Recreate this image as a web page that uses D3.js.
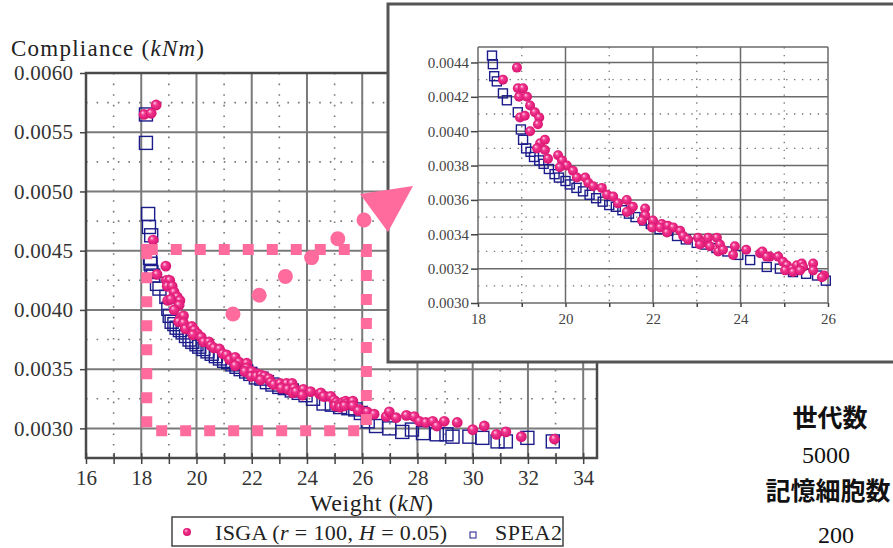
<!DOCTYPE html>
<html>
<head>
<meta charset="utf-8">
<script src="https://cdnjs.cloudflare.com/ajax/libs/d3/7.8.5/d3.min.js"></script>
<style>
  body { margin: 0; background: #fff; }
  svg { display: block; font-family: "Liberation Serif", "Times New Roman", "DejaVu Serif", serif; }
  .major { stroke: #7a7a7a; stroke-width: 2; }
  .minor { stroke: #777; stroke-width: 1.6; stroke-dasharray: 1.6,9; }
  .imajor { stroke: #6a6a6a; stroke-width: 1.5; }
  .iminor { stroke: #777; stroke-width: 1.3; stroke-dasharray: 1.4,6.5; }
  .spea { fill: none; stroke: #1c1c8a; stroke-width: 1.4; }
  .cjk { font-family: "Noto Sans CJK JP", sans-serif; font-weight: bold; }
</style>
</head>
<body>
<script>
var w = 893;
var h = 548;
var serif = "Liberation Serif, Times New Roman, serif";

// ISGA (r = 100, H = 0.05) : [weight kN, compliance kNm]
var isga = [
  [18.10,0.00565],[18.36,0.00566],[18.54,0.00573],[18.43,0.00459],
  [18.89,0.00437],[18.57,0.00430],[18.91,0.00425],[19.03,0.00425],[18.94,0.00420],
  [19.12,0.00420],[19.19,0.00415],[19.30,0.00411],[19.40,0.00408],[18.96,0.00408],
  [19.07,0.00409],[19.37,0.00404],[19.19,0.00400],[19.42,0.00393],[19.53,0.00395],
  [19.35,0.00390],[19.53,0.00389],[19.60,0.00384],[19.83,0.00386],[19.92,0.00383],
  [20.03,0.00380],[19.87,0.00379],[20.17,0.00377],[20.26,0.00373],[20.45,0.00373],
  [20.52,0.00370],[20.63,0.00368],[20.83,0.00367],[20.95,0.00363],[21.09,0.00362],
  [21.20,0.00358],[21.40,0.00360],[21.47,0.00354],[21.54,0.00356],[21.40,0.00353],
  [21.82,0.00355],[21.82,0.00351],[21.75,0.00348],[22.00,0.00348],[21.98,0.00344],
  [22.20,0.00346],[22.16,0.00344],[22.34,0.00345],[22.46,0.00344],[22.32,0.00341],
  [22.62,0.00342],[22.69,0.00339],[22.80,0.00337],[23.03,0.00338],[23.12,0.00335],
  [23.26,0.00338],[23.07,0.00334],[23.46,0.00338],[23.30,0.00333],[23.53,0.00334],
  [23.49,0.00330],[23.60,0.00331],[23.87,0.00333],[23.83,0.00328],[24.13,0.00331],
  [24.45,0.00329],[24.50,0.00330],[24.67,0.00327],[24.60,0.00327],[24.86,0.00327],
  [24.97,0.00324],[25.06,0.00322],[25.02,0.00319],[25.18,0.00320],[25.29,0.00322],
  [25.20,0.00318],[25.40,0.00323],[25.43,0.00321],[25.36,0.00319],[25.66,0.00323],
  [25.66,0.00319],[25.91,0.00316],[25.86,0.00315],
  [26.18,0.00314],[26.43,0.00312],[26.87,0.00310],[26.98,0.00314],[27.23,0.00309],
  [27.60,0.00311],[27.88,0.00310],[28.07,0.00306],[28.30,0.00305],[28.55,0.00306],
  [28.70,0.00302],[28.97,0.00306],[29.44,0.00305],[30.00,0.00299],[30.42,0.00302],
  [30.86,0.00295],[31.20,0.00297],[31.76,0.00293],[32.96,0.00291]
];

// SPEA2 : [weight kN, compliance kNm]
var spea2 = [
  [18.17,0.00565],[18.17,0.00541],[18.25,0.00481],[18.28,0.00470],[18.36,0.00463],
  [18.32,0.00444],[18.34,0.00439],[18.37,0.00432],[18.43,0.00429],[18.57,0.00422],
  [18.66,0.00418],[18.91,0.00411],[18.98,0.00401],[19.03,0.00395],[19.10,0.00390],
  [19.20,0.00388],[19.28,0.00385],[19.40,0.00383],[19.50,0.00381],[19.62,0.00378],
  [19.75,0.00375],[19.85,0.00373],[20.00,0.00371],[20.10,0.00369],[20.25,0.00367],
  [20.40,0.00365],[20.55,0.00363],[20.70,0.00361],[20.85,0.00359],[21.00,0.00357],
  [21.15,0.00356],[21.30,0.00354],[21.45,0.00352],[21.60,0.00350],[21.80,0.00348],
  [21.95,0.00346],[22.15,0.00343],[22.35,0.00342],[22.55,0.00339],[22.75,0.00337],
  [23.00,0.00335],[23.20,0.00334],[23.45,0.00332],[23.70,0.00330],[23.95,0.00328],
  [24.22,0.00325],[24.60,0.00321],[24.90,0.00320],[25.20,0.00318],[25.50,0.00317],
  [25.75,0.00316],[25.95,0.00313],[26.20,0.00306],[26.50,0.00302],[26.98,0.00300],
  [27.45,0.00297],[27.80,0.00299],[28.20,0.00296],[28.70,0.00295],[29.05,0.00295],
  [29.27,0.00293],[29.88,0.00293],[30.35,0.00292],[30.90,0.00289],[31.20,0.00289],
  [31.98,0.00292],[32.90,0.00289]
];

var mainXTicks = [16, 18, 20, 22, 24, 26, 28, 30, 32, 34];
var mainYTicks = [0.0030, 0.0035, 0.0040, 0.0045, 0.0050, 0.0055, 0.0060];
var insetXTicks = [18, 20, 22, 24, 26];
var insetYTicks = [0.0030, 0.0032, 0.0034, 0.0036, 0.0038, 0.0040, 0.0042, 0.0044];
var sideLabels = ["世代数", "5000", "記憶細胞数", "200"];

var svg = d3.select("body")
    .append("svg")
    .attr("width", w)
    .attr("height", h);

var defs = svg.append("defs");
var grad = defs.append("radialGradient")
    .attr("id", "ball")
    .attr("cx", "50%").attr("cy", "50%").attr("r", "55%")
    .attr("fx", "35%").attr("fy", "30%");
grad.append("stop").attr("offset", "0%").attr("stop-color", "#ffd6ea");
grad.append("stop").attr("offset", "35%").attr("stop-color", "#f2368e");
grad.append("stop").attr("offset", "100%").attr("stop-color", "#d40f6c");

// ---------- main chart ----------
var xScale = d3.scaleLinear().domain([16, 34.5]).range([86, 597]);
var yScale = d3.scaleLinear().domain([0.00275, 0.0060]).range([458, 73]);

var main = svg.append("g");

var minorX = d3.range(17, 35, 2);
var minorY = d3.range(0.00275, 0.0060, 0.0005);

main.selectAll(".mvx").data(minorX).enter().append("line")
    .attr("class", "minor")
    .attr("x1", function(d) { return xScale(d); }).attr("x2", function(d) { return xScale(d); })
    .attr("y1", yScale.range()[1]).attr("y2", yScale.range()[0]);
main.selectAll(".mhy").data(minorY).enter().append("line")
    .attr("class", "minor")
    .attr("y1", function(d) { return yScale(d); }).attr("y2", function(d) { return yScale(d); })
    .attr("x1", xScale.range()[0]).attr("x2", xScale.range()[1]);

main.selectAll(".vx").data(mainXTicks.slice(1)).enter().append("line")
    .attr("class", "major")
    .attr("x1", function(d) { return xScale(d); }).attr("x2", function(d) { return xScale(d); })
    .attr("y1", yScale.range()[1]).attr("y2", yScale.range()[0]);
main.selectAll(".hy").data(mainYTicks.slice(0, -1)).enter().append("line")
    .attr("class", "major")
    .attr("y1", function(d) { return yScale(d); }).attr("y2", function(d) { return yScale(d); })
    .attr("x1", xScale.range()[0]).attr("x2", xScale.range()[1]);

main.append("rect")
    .attr("x", xScale.range()[0]).attr("y", yScale.range()[1])
    .attr("width", xScale.range()[1] - xScale.range()[0])
    .attr("height", yScale.range()[0] - yScale.range()[1])
    .attr("fill", "none").attr("stroke", "#4a4a4a").attr("stroke-width", 2.5);

var xAxis = d3.axisBottom(xScale).tickValues(d3.range(16, 35, 1))
    .tickSize(6).tickFormat(function(d) { return d % 2 === 0 ? d : ""; });
var gx = main.append("g")
    .attr("transform", "translate(0," + yScale.range()[0] + ")")
    .call(xAxis);
gx.select(".domain").remove();
gx.selectAll(".tick line").attr("stroke", "#444").attr("stroke-width", 1.5).attr("y1", -5);
gx.selectAll(".tick text").attr("font-size", 21).attr("fill", "#333")
    .attr("font-family", serif).attr("dy", "0.85em");

var yAxis = d3.axisLeft(yScale).tickValues(mainYTicks).tickSize(6)
    .tickFormat(d3.format(".4f"));
var gy = main.append("g")
    .attr("transform", "translate(" + xScale.range()[0] + ",0)")
    .call(yAxis);
gy.select(".domain").remove();
gy.selectAll(".tick line").attr("stroke", "#444").attr("stroke-width", 1.5);
gy.selectAll(".tick text").attr("font-size", 21).attr("fill", "#333")
    .attr("font-family", serif).attr("x", -13).attr("textLength", 59);

// data
main.selectAll(".sq").data(spea2).enter().append("rect")
    .attr("class", "spea")
    .attr("x", function(d) { return xScale(d[0]) - 6.5; })
    .attr("y", function(d) { return yScale(d[1]) - 6.5; })
    .attr("width", 13).attr("height", 13);
main.selectAll(".ball").data(isga).enter().append("circle")
    .attr("cx", function(d) { return xScale(d[0]); })
    .attr("cy", function(d) { return yScale(d[1]); })
    .attr("r", 5.4).attr("fill", "url(#ball)");

// titles
var ytitle = svg.append("text").attr("x", 11).attr("y", 56).attr("font-size", 23)
    .attr("fill", "#222").attr("textLength", 193);
ytitle.append("tspan").text("Compliance (");
ytitle.append("tspan").attr("font-style", "italic").text("kNm");
ytitle.append("tspan").text(")");

var xtitle = svg.append("text").attr("x", 310).attr("y", 511).attr("font-size", 24)
    .attr("fill", "#222").attr("textLength", 123);
xtitle.append("tspan").text("Weight (");
xtitle.append("tspan").attr("font-style", "italic").text("kN");
xtitle.append("tspan").text(")");

// legend
var leg = svg.append("g");
leg.append("rect").attr("x", 172).attr("y", 517).attr("width", 391).attr("height", 29)
    .attr("fill", "#fff").attr("stroke", "#444").attr("stroke-width", 1.5);
leg.append("circle").attr("cx", 187).attr("cy", 532).attr("r", 4).attr("fill", "url(#ball)");
var lt = leg.append("text").attr("x", 215).attr("y", 540).attr("font-size", 22)
    .attr("fill", "#222").attr("textLength", 232);
lt.append("tspan").text("ISGA (");
lt.append("tspan").attr("font-style", "italic").text("r");
lt.append("tspan").text(" = 100, ");
lt.append("tspan").attr("font-style", "italic").text("H");
lt.append("tspan").text(" = 0.05)");
leg.append("rect").attr("x", 470).attr("y", 532).attr("width", 6).attr("height", 6)
    .attr("fill", "none").attr("stroke", "#1c1c8a").attr("stroke-width", 1);
leg.append("text").attr("x", 495).attr("y", 540).attr("font-size", 22).attr("fill", "#222")
    .attr("textLength", 67).text("SPEA2");

// zoom highlight box
var pink = "#ff6b9c";
svg.append("rect")
    .attr("x", xScale(18.2)).attr("y", yScale(0.00451))
    .attr("width", xScale(26.15) - xScale(18.2))
    .attr("height", yScale(0.00298) - yScale(0.00451))
    .attr("fill", "none").attr("stroke", pink).attr("stroke-width", 11)
    .attr("stroke-dasharray", "11,13");

// ---------- inset ----------
var inset = svg.append("g");
inset.append("rect").attr("x", 388).attr("y", 4).attr("width", 520).attr("height", 358)
    .attr("fill", "#fff").attr("stroke", "#555").attr("stroke-width", 3);

var ix = d3.scaleLinear().domain([18, 26]).range([478, 828]);
var iy = d3.scaleLinear().domain([0.0030, 0.00449]).range([303, 47]);

inset.selectAll(".ivx").data(d3.range(19, 26, 2)).enter().append("line")
    .attr("class", "iminor")
    .attr("x1", function(d) { return ix(d); }).attr("x2", function(d) { return ix(d); })
    .attr("y1", iy.range()[1]).attr("y2", iy.range()[0]);
inset.selectAll(".ihy").data(d3.range(0.0031, 0.0045, 0.0002)).enter().append("line")
    .attr("class", "iminor")
    .attr("y1", function(d) { return iy(d); }).attr("y2", function(d) { return iy(d); })
    .attr("x1", ix.range()[0]).attr("x2", ix.range()[1]);
inset.selectAll(".jvx").data(insetXTicks).enter().append("line")
    .attr("class", "imajor")
    .attr("x1", function(d) { return ix(d); }).attr("x2", function(d) { return ix(d); })
    .attr("y1", iy.range()[1]).attr("y2", iy.range()[0]);
inset.selectAll(".jhy").data(insetYTicks).enter().append("line")
    .attr("class", "imajor")
    .attr("y1", function(d) { return iy(d); }).attr("y2", function(d) { return iy(d); })
    .attr("x1", ix.range()[0]).attr("x2", ix.range()[1]);
inset.append("line").attr("class", "imajor")
    .attr("x1", ix.range()[0]).attr("x2", ix.range()[1])
    .attr("y1", iy.range()[1]).attr("y2", iy.range()[1]);

var ixAxis = d3.axisBottom(ix).tickValues(d3.range(18, 27, 1)).tickSize(4)
    .tickFormat(function(d) { return d % 2 === 0 ? d : ""; });
var gix = inset.append("g").attr("transform", "translate(0," + iy.range()[0] + ")").call(ixAxis);
gix.select(".domain").remove();
gix.selectAll(".tick line").attr("stroke", "#444").attr("stroke-width", 1.5);
gix.selectAll(".tick text").attr("font-size", 15).attr("fill", "#444")
    .attr("font-family", serif).attr("dy", "0.95em");

var iyAxis = d3.axisLeft(iy).tickValues(insetYTicks).tickSize(7).tickFormat(d3.format(".4f"));
var giy = inset.append("g").attr("transform", "translate(" + ix.range()[0] + ",0)").call(iyAxis);
giy.select(".domain").remove();
giy.selectAll(".tick line").attr("stroke", "#444").attr("stroke-width", 1.5);
giy.selectAll(".tick text").attr("font-size", 15).attr("fill", "#444")
    .attr("font-family", serif).attr("x", -9);

var inRange = function(d) { return d[0] <= 26.05 && d[1] >= 0.0030 && d[1] <= 0.00449; };
inset.selectAll(".isq").data(spea2.filter(inRange)).enter().append("rect")
    .attr("class", "spea")
    .attr("x", function(d) { return ix(d[0]) - 4.5; })
    .attr("y", function(d) { return iy(d[1]) - 4.5; })
    .attr("width", 9).attr("height", 9);
inset.selectAll(".iball").data(isga.filter(inRange)).enter().append("circle")
    .attr("cx", function(d) { return ix(d[0]); })
    .attr("cy", function(d) { return iy(d[1]); })
    .attr("r", 5).attr("fill", "url(#ball)");

// dotted arrow pointing to the inset
var arrowDots = [0, 1, 2, 3, 4, 5];
svg.selectAll(".adot").data(arrowDots).enter().append("circle")
    .attr("cx", function(d) { return 233 + d * 26.2; })
    .attr("cy", function(d) { return 314 - d * 18.8; })
    .attr("r", 7.5).attr("fill", pink);
svg.append("path")
    .attr("d", "M360,194 L413,186 L388,232 Z")
    .attr("fill", pink);

// side notes
var sideX = [830, 826, 828, 836];
var sideY = [427, 463, 500, 543];
var sideSize = [25, 24, 25, 24];
svg.selectAll(".side").data(sideLabels).enter().append("text")
    .attr("class", function(d, i) { return i % 2 === 0 ? "cjk" : ""; })
    .attr("x", function(d, i) { return sideX[i]; })
    .attr("y", function(d, i) { return sideY[i]; })
    .attr("text-anchor", "middle")
    .attr("font-size", function(d, i) { return sideSize[i]; })
    .attr("fill", "#111")
    .text(function(d) { return d; });
</script>
</body>
</html>
